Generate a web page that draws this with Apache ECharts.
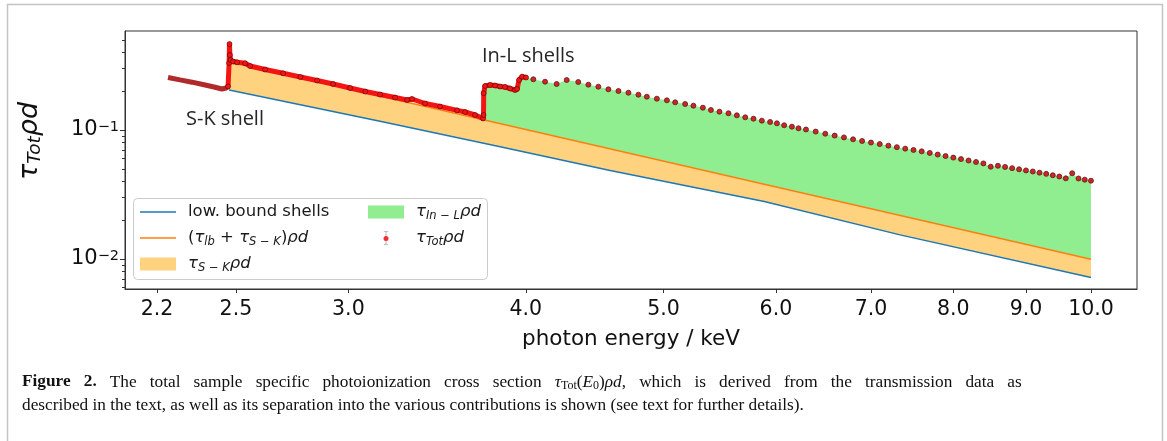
<!DOCTYPE html>
<html>
<head>
<meta charset="utf-8">
<script src="https://cdn.jsdelivr.net/npm/echarts@6/dist/echarts.min.js"></script>
<style>
    html, body { margin: 0; padding: 0; background: #fff; }
    #chart { width: 1167px; height: 441px; }
</style>
</head>
<body>
<div id="chart"></div>
<script>
// tick values of the two log axes
var xTicks = [2.2, 2.5, 3.0, 4.0, 5.0, 6.0, 7.0, 8.0, 9.0, 10.0];
var yTicks = [0.01, 0.1];
var yMinorTicks = [0.006, 0.007, 0.008, 0.009, 0.02, 0.03, 0.04, 0.05, 0.06, 0.07, 0.08, 0.09,
    0.2, 0.3, 0.4, 0.5];

// [photon energy / keV, tau * rho * d]
var lowBound = [[2.4725, 0.2042], [3.158, 0.1168], [3.837, 0.07423], [4.586, 0.04854],
    [5.888, 0.02796], [7.338, 0.01538], [10.0, 0.00718]];
var skSum = [[2.4725, 0.3396], [3.734, 0.1200], [10.0, 0.00995]];

// measured total, below the S K edge
var tauPreEdge = [[2.2394, 0.2553], [2.2834, 0.2448], [2.3283, 0.2348], [2.3740, 0.2241],
    [2.4128, 0.2154], [2.4443, 0.2078], [2.4603, 0.2116], [2.4683, 0.2174]];
// measured total, dense scan from the S K edge over the In L3/L2 edges
var tauScan = [[2.4683, 0.2174], [2.4725, 0.3307], [2.4741, 0.4642], [2.4757, 0.3815],
    [2.4785, 0.3489], [2.4885, 0.3396], [2.5047, 0.3349], [2.5374, 0.3289], [2.5581, 0.3135],
    [2.6210, 0.2945], [2.6986, 0.2751], [2.7754, 0.2576], [2.8514, 0.2420], [2.9265, 0.2273],
    [3.0084, 0.2116], [3.0832, 0.1988], [3.1582, 0.1884], [3.2359, 0.1786], [3.2995, 0.1708],
    [3.3263, 0.1739], [3.3972, 0.1605], [3.4807, 0.1521], [3.5780, 0.1420], [3.6247, 0.1379],
    [3.6840, 0.1307], [3.7321, 0.1228], [3.7350, 0.1307], [3.7360, 0.1926], [3.7442, 0.2193],
    [3.7747, 0.2233], [3.8054, 0.2213], [3.8365, 0.2174], [3.8677, 0.2154], [3.8992, 0.2098],
    [3.9309, 0.2042], [3.9437, 0.2079], [3.9565, 0.2441], [3.9758, 0.2590], [4.0017, 0.2553]];
// measured total, coarse steps up to 10 keV
var tauSparse = [[4.049, 0.2472], [4.127, 0.2368], [4.205, 0.2273], [4.274, 0.2441],
    [4.355, 0.2356], [4.427, 0.2245], [4.499, 0.2166], [4.573, 0.2068], [4.648, 0.2006],
    [4.724, 0.1946], [4.801, 0.1878], [4.867, 0.1812], [4.947, 0.1748], [5.028, 0.1699],
    [5.096, 0.1639], [5.179, 0.1590], [5.249, 0.1543], [5.330, 0.1489], [5.400, 0.1429],
    [5.475, 0.1386], [5.556, 0.1347], [5.632, 0.1300], [5.709, 0.1254], [5.786, 0.1224],
    [5.865, 0.1181], [5.944, 0.1154], [6.010, 0.1127], [6.081, 0.1088], [6.158, 0.1061],
    [6.224, 0.1031], [6.3, 0.1009], [6.4, 0.0972], [6.5, 0.0936], [6.6, 0.0905],
    [6.7, 0.0876], [6.8, 0.0847], [6.9, 0.0822], [7.0, 0.0799], [7.1, 0.0778], [7.2, 0.0756],
    [7.3, 0.0736], [7.4, 0.0717], [7.5, 0.0700], [7.6, 0.0683], [7.7, 0.0664], [7.8, 0.0645],
    [7.9, 0.0628], [8.0, 0.0611], [8.1, 0.0595], [8.2, 0.0580], [8.3, 0.0565], [8.4, 0.0551],
    [8.5, 0.0519], [8.6, 0.0528], [8.7, 0.0517], [8.8, 0.0506], [8.9, 0.0496], [9.0, 0.0486],
    [9.1, 0.0477], [9.2, 0.0467], [9.3, 0.0457], [9.4, 0.0446], [9.5, 0.0436], [9.6, 0.0422],
    [9.7, 0.0462], [9.8, 0.0421], [9.9, 0.0412], [10.0, 0.04045]];

// filled areas are polygons built from the curves above
var skFill = lowBound.concat(skSum.slice().reverse());
var inLFill = [skSum[1]].concat(tauScan.filter(function (p) { return p[0] >= 3.735; }),
    tauSparse, [skSum[2]]);
var skEdgeFill = tauScan.filter(function (p) { return p[0] >= 2.4725 && p[0] <= 2.4785; })
    .concat([lowBound[0]]);

var legendText = {
    lowBound: 'low. bound shells',
    skSum: '({i|τ}{s|lb} + {i|τ}{s|S − K}){i|ρd}',
    skFill: '{i|τ}{s|S − K}{i|ρd}',
    inFill: '{i|τ}{s|In − L}{i|ρd}',
    tot: '{i|τ}{s|Tot}{i|ρd}'
};
var legendRich = {
    i: {fontStyle: 'italic', fontSize: 16.5, lineHeight: 20, fontFamily: 'DejaVu Sans'},
    s: {fontStyle: 'italic', fontSize: 11.5, lineHeight: 11, verticalAlign: 'bottom', fontFamily: 'DejaVu Sans'}
};
var lineIcon = 'path://M0,0H36V1.5H0Z';
var barIcon = 'path://M0,0H6V0.8H3.4V17.2H6V18H0V17.2H2.6V0.8H0Z';

// caption, first line is justified in the original so its word gaps are wider
var captionWords1 = ['{b|Figure}', '{b|2.}', 'The', 'total', 'sample', 'specific', 'photoionization',
    'cross', 'section', '{i|τ}{sub|Tot}({i|E}{sub|0}){i|ρd},', 'which', 'is', 'derived', 'from',
    'the', 'transmission', 'data', 'as'];
var captionLine2 = 'described in the text, as well as its separation into the various contributions is shown (see text for further details).';

function fillPolygon(params, api) {
    if (params.dataIndexInside !== 0) {
        return;
    }
    var points = [];
    for (var i = 0; i < params.dataInsideLength; i++) {
        points.push(api.coord([api.value(0, i), api.value(1, i)]));
    }
    return {
        type: 'polygon',
        shape: {points: points},
        style: {fill: api.visual('color')}
    };
}

var chart = echarts.init(document.getElementById('chart'));
var legendBase = {
    orient: 'vertical',
    padding: 0,
    itemWidth: 36,
    itemHeight: 13,
    itemGap: 6,
    z: 10,
    selectedMode: false,
    formatter: function (name) { return legendText[name]; },
    textStyle: {
        fontSize: 16.5, lineHeight: 20, color: '#1a1a1a', fontFamily: 'DejaVu Sans',
        padding: [0, 0, 0, 7], rich: legendRich
    }
};
var capFont = {fontSize: 17.3, lineHeight: 20, fontFamily: 'Liberation Serif', fill: '#111'};

var option = {
    animation: false,
    backgroundColor: '#fff',
    grid: {
        left: 125, top: 31, width: 1012, height: 258,
        show: true, borderColor: '#333', borderWidth: 1, backgroundColor: 'transparent'
    },
    legend: [
        echarts.util.merge({
            left: 140, top: 202,
            data: [
                {name: 'lowBound', icon: lineIcon},
                {name: 'skSum', icon: lineIcon},
                {name: 'skFill', icon: 'rect'}
            ]
        }, legendBase),
        echarts.util.merge({
            left: 368, top: 202,
            data: [
                {name: 'inFill', icon: 'rect'},
                {name: 'tot', icon: barIcon, itemStyle: {color: '#808080'}}
            ]
        }, legendBase)
    ],
    xAxis: {
        type: 'log',
        min: 2.0885,
        max: 10.775,
        name: 'photon energy / keV',
        nameLocation: 'middle',
        nameGap: 39,
        nameTextStyle: {fontSize: 21.5, color: '#111', fontFamily: 'DejaVu Sans'},
        axisLine: {show: true, lineStyle: {color: '#333', width: 1}},
        axisTick: {show: true, customValues: xTicks, length: 4, lineStyle: {color: '#333'}},
        axisLabel: {
            customValues: xTicks, margin: 10, fontSize: 20.5, color: '#111', fontFamily: 'DejaVu Sans',
            formatter: function (v) { return v.toFixed(1); }
        },
        splitLine: {show: false},
        minorTick: {show: false}
    },
    yAxis: [
        {
            type: 'log',
            position: 'left',
            min: 0.005854,
            max: 0.5854,
            axisLine: {show: true, lineStyle: {color: '#333', width: 1}},
            axisTick: {show: true, customValues: yTicks, length: 5, lineStyle: {color: '#333'}},
            axisLabel: {
                customValues: yTicks, margin: 6, fontSize: 21, color: '#111', fontFamily: 'DejaVu Sans',
                formatter: function (v) {
                    return '10{sup|\u2212' + Math.round(-Math.log10(v)) + '}';
                },
                rich: {sup: {fontSize: 14.5, verticalAlign: 'top', fontFamily: 'DejaVu Sans', color: '#111'}}
            },
            splitLine: {show: false}
        },
        {
            type: 'log',
            position: 'left',
            offset: 0,
            min: 0.005854,
            max: 0.5854,
            axisLine: {show: false},
            axisTick: {show: true, customValues: yMinorTicks, length: 3, lineStyle: {color: '#333'}},
            axisLabel: {show: false},
            splitLine: {show: false}
        }
    ],
    series: [
        {
            name: 'skFill', type: 'custom', z: 1,
            itemStyle: {color: '#ffd280'},
            encode: {x: 0, y: 1},
            renderItem: fillPolygon,
            data: skFill
        },
        {
            name: 'inFill', type: 'custom', z: 1,
            itemStyle: {color: '#90ee90'},
            encode: {x: 0, y: 1},
            renderItem: fillPolygon,
            data: inLFill
        },
        {
            name: 'inFill', type: 'custom', z: 1,
            itemStyle: {color: '#90ee90'},
            encode: {x: 0, y: 1},
            renderItem: fillPolygon,
            data: skEdgeFill
        },
        {
            name: 'lowBound', type: 'line', z: 2,
            symbol: 'none',
            color: '#1f77b4',
            lineStyle: {color: '#1f77b4', width: 1.5},
            data: lowBound
        },
        {
            name: 'skSum', type: 'line', z: 2,
            symbol: 'none',
            color: '#ff7f0e',
            lineStyle: {color: '#ff7f0e', width: 1.5},
            data: skSum
        },
        {
            name: 'tot', type: 'line', z: 3,
            symbol: 'none',
            color: '#b02a2a',
            lineStyle: {color: '#b02a2a', width: 5},
            data: tauPreEdge
        },
        {
            name: 'tot', type: 'line', z: 3,
            symbol: 'circle', symbolSize: 5, showAllSymbol: true,
            color: '#f51414',
            lineStyle: {color: '#f51414', width: 5},
            itemStyle: {color: '#f51414', borderColor: 'rgba(70,0,0,0.55)', borderWidth: 1},
            data: tauScan
        },
        {
            name: 'tot', type: 'scatter', z: 3,
            symbol: 'circle', symbolSize: 5,
            itemStyle: {color: '#d02525', borderColor: 'rgba(90,30,30,0.8)', borderWidth: 1, opacity: 1},
            data: tauSparse
        }
    ],
    graphic: [
        {
            type: 'rect', z: 5,
            shape: {x: 133.5, y: 198.5, width: 354, height: 81, r: 4},
            style: {fill: 'rgba(255,255,255,0.85)', stroke: '#cccccc', lineWidth: 1}
        },
        {
            type: 'circle', z: 20,
            shape: {cx: 386, cy: 238.5, r: 2.5},
            style: {fill: '#f03030'}
        },
        {
            type: 'rect', z: 0,
            shape: {x: 7.5, y: 4.5, width: 1155, height: 460},
            style: {fill: 'none', stroke: '#c4c4c4', lineWidth: 1.5}
        },
        {
            type: 'text', z: 6, x: 186, y: 119,
            style: {text: 'S-K shell', fontSize: 20, fontFamily: 'Open Sans', fill: '#262626', verticalAlign: 'middle'}
        },
        {
            type: 'text', z: 6, x: 482, y: 56,
            style: {text: 'In-L shells', fontSize: 20, fontFamily: 'Open Sans', fill: '#262626', verticalAlign: 'middle'}
        },
        {
            type: 'text', z: 6, x: 30, y: 141, rotation: Math.PI / 2,
            style: {
                text: '{t|τ}{s|Tot}{t|ρd}',
                align: 'center', verticalAlign: 'middle', fill: '#111',
                rich: {
                    t: {fontStyle: 'italic', fontSize: 27, lineHeight: 30, fontFamily: 'DejaVu Sans', fill: '#111'},
                    s: {fontStyle: 'italic', fontSize: 18.5, lineHeight: 18, verticalAlign: 'bottom', fontFamily: 'DejaVu Sans', fill: '#111'}
                }
            }
        },
        {
            type: 'text', z: 6, x: 22, y: 382,
            style: echarts.util.extend({
                text: captionWords1.join('{sp| }'),
                verticalAlign: 'middle',
                rich: {
                    b: echarts.util.extend({fontWeight: 'bold'}, capFont),
                    i: echarts.util.extend({fontStyle: 'italic'}, capFont),
                    sub: {fontSize: 12, lineHeight: 12, verticalAlign: 'bottom', fontFamily: 'Liberation Serif', fill: '#111'},
                    sp: echarts.util.extend({width: 13.1}, capFont)
                }
            }, capFont)
        },
        {
            type: 'text', z: 6, x: 22, y: 405,
            style: echarts.util.extend({text: captionLine2, verticalAlign: 'middle'}, capFont)
        }
    ]
};

chart.setOption(option);
</script>
</body>
</html>
